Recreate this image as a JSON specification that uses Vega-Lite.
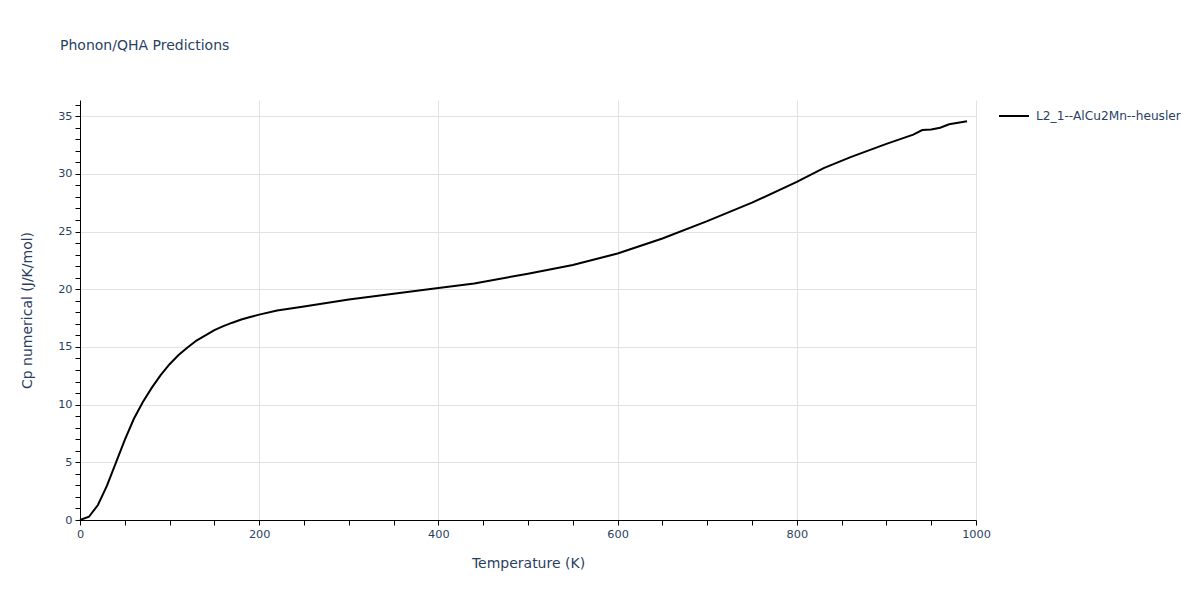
{
  "$schema": "https://vega.github.io/schema/vega-lite/v6.json",
  "width": 896,
  "height": 420,
  "autosize": {"type": "none"},
  "padding": {"left": 80, "top": 100, "right": 224, "bottom": 80},
  "background": "white",
  "config": {
    "font": "DejaVu Sans",
    "view": {"stroke": null},
    "axis": {"labelColor": "#2a3f5f", "titleColor": "#2a3f5f", "labelFont": "DejaVu Sans", "titleFont": "DejaVu Sans", "titleFontWeight": "normal", "labelFontSize": 11.3, "titleFontSize": 14, "domainColor": "#000000", "tickColor": "#000000", "gridColor": "#e2e2e2"}
  },
  "title": {"text": "Phonon/QHA Predictions", "anchor": "start", "frame": "group", "dx": -20, "dy": -42, "fontSize": 14, "fontWeight": "normal", "color": "#2a3f5f", "font": "DejaVu Sans"},
  "data": {"values": [
    {"T": 0, "Cp": 0, "series": "L2_1--AlCu2Mn--heusler"},
    {"T": 10, "Cp": 0.28, "series": "L2_1--AlCu2Mn--heusler"},
    {"T": 20, "Cp": 1.3, "series": "L2_1--AlCu2Mn--heusler"},
    {"T": 30, "Cp": 2.95, "series": "L2_1--AlCu2Mn--heusler"},
    {"T": 40, "Cp": 4.95, "series": "L2_1--AlCu2Mn--heusler"},
    {"T": 50, "Cp": 6.95, "series": "L2_1--AlCu2Mn--heusler"},
    {"T": 60, "Cp": 8.75, "series": "L2_1--AlCu2Mn--heusler"},
    {"T": 70, "Cp": 10.2, "series": "L2_1--AlCu2Mn--heusler"},
    {"T": 80, "Cp": 11.45, "series": "L2_1--AlCu2Mn--heusler"},
    {"T": 90, "Cp": 12.55, "series": "L2_1--AlCu2Mn--heusler"},
    {"T": 100, "Cp": 13.5, "series": "L2_1--AlCu2Mn--heusler"},
    {"T": 110, "Cp": 14.3, "series": "L2_1--AlCu2Mn--heusler"},
    {"T": 120, "Cp": 14.95, "series": "L2_1--AlCu2Mn--heusler"},
    {"T": 130, "Cp": 15.55, "series": "L2_1--AlCu2Mn--heusler"},
    {"T": 140, "Cp": 16.0, "series": "L2_1--AlCu2Mn--heusler"},
    {"T": 150, "Cp": 16.45, "series": "L2_1--AlCu2Mn--heusler"},
    {"T": 160, "Cp": 16.8, "series": "L2_1--AlCu2Mn--heusler"},
    {"T": 170, "Cp": 17.1, "series": "L2_1--AlCu2Mn--heusler"},
    {"T": 180, "Cp": 17.38, "series": "L2_1--AlCu2Mn--heusler"},
    {"T": 190, "Cp": 17.6, "series": "L2_1--AlCu2Mn--heusler"},
    {"T": 200, "Cp": 17.8, "series": "L2_1--AlCu2Mn--heusler"},
    {"T": 220, "Cp": 18.15, "series": "L2_1--AlCu2Mn--heusler"},
    {"T": 250, "Cp": 18.5, "series": "L2_1--AlCu2Mn--heusler"},
    {"T": 300, "Cp": 19.1, "series": "L2_1--AlCu2Mn--heusler"},
    {"T": 350, "Cp": 19.6, "series": "L2_1--AlCu2Mn--heusler"},
    {"T": 400, "Cp": 20.1, "series": "L2_1--AlCu2Mn--heusler"},
    {"T": 440, "Cp": 20.5, "series": "L2_1--AlCu2Mn--heusler"},
    {"T": 500, "Cp": 21.35, "series": "L2_1--AlCu2Mn--heusler"},
    {"T": 550, "Cp": 22.1, "series": "L2_1--AlCu2Mn--heusler"},
    {"T": 600, "Cp": 23.1, "series": "L2_1--AlCu2Mn--heusler"},
    {"T": 650, "Cp": 24.4, "series": "L2_1--AlCu2Mn--heusler"},
    {"T": 700, "Cp": 25.9, "series": "L2_1--AlCu2Mn--heusler"},
    {"T": 750, "Cp": 27.5, "series": "L2_1--AlCu2Mn--heusler"},
    {"T": 800, "Cp": 29.3, "series": "L2_1--AlCu2Mn--heusler"},
    {"T": 830, "Cp": 30.5, "series": "L2_1--AlCu2Mn--heusler"},
    {"T": 860, "Cp": 31.45, "series": "L2_1--AlCu2Mn--heusler"},
    {"T": 900, "Cp": 32.6, "series": "L2_1--AlCu2Mn--heusler"},
    {"T": 930, "Cp": 33.4, "series": "L2_1--AlCu2Mn--heusler"},
    {"T": 940, "Cp": 33.8, "series": "L2_1--AlCu2Mn--heusler"},
    {"T": 950, "Cp": 33.85, "series": "L2_1--AlCu2Mn--heusler"},
    {"T": 960, "Cp": 34.0, "series": "L2_1--AlCu2Mn--heusler"},
    {"T": 970, "Cp": 34.3, "series": "L2_1--AlCu2Mn--heusler"},
    {"T": 990, "Cp": 34.55, "series": "L2_1--AlCu2Mn--heusler"}
  ]},
  "mark": {"type": "line", "strokeWidth": 2},
  "encoding": {
    "x": {"field": "T", "type": "quantitative", "title": "Temperature (K)",
      "scale": {"domain": [0, 1000], "nice": false, "zero": true},
      "axis": {"values": [0,50,100,150,200,250,300,350,400,450,500,550,600,650,700,750,800,850,900,950,1000],
        "format": "d",
        "labelExpr": "datum.value % 200 === 0 ? datum.label : ''",
        "gridOpacity": {"condition": {"test": "datum.value % 200 === 0 && datum.value > 0", "value": 1}, "value": 0},
        "tickSize": 5, "labelPadding": 3, "titlePadding": 17, "labelFlush": false, "labelOverlap": false}},
    "y": {"field": "Cp", "type": "quantitative", "title": "Cp numerical (J/K/mol)",
      "scale": {"domain": [0, 36.4], "nice": false},
      "axis": {"values": [0,1,2,3,4,5,6,7,8,9,10,11,12,13,14,15,16,17,18,19,20,21,22,23,24,25,26,27,28,29,30,31,32,33,34,35,36],
        "labelExpr": "datum.value % 5 === 0 ? datum.label : ''",
        "gridOpacity": {"condition": {"test": "datum.value % 5 === 0 && datum.value > 0", "value": 1}, "value": 0},
        "tickSize": 5, "labelPadding": 3, "titlePadding": 23, "labelFlush": false, "labelOverlap": false}},
    "color": {"field": "series", "type": "nominal", "scale": {"range": ["#000000"]},
      "legend": {"title": null, "orient": "none", "legendX": 918, "legendY": 0, "symbolType": "stroke", "symbolSize": 900, "symbolStrokeWidth": 2, "labelFontSize": 12.2, "labelColor": "#2a3f5f", "labelFont": "DejaVu Sans", "labelOffset": 6}}
  }
}
